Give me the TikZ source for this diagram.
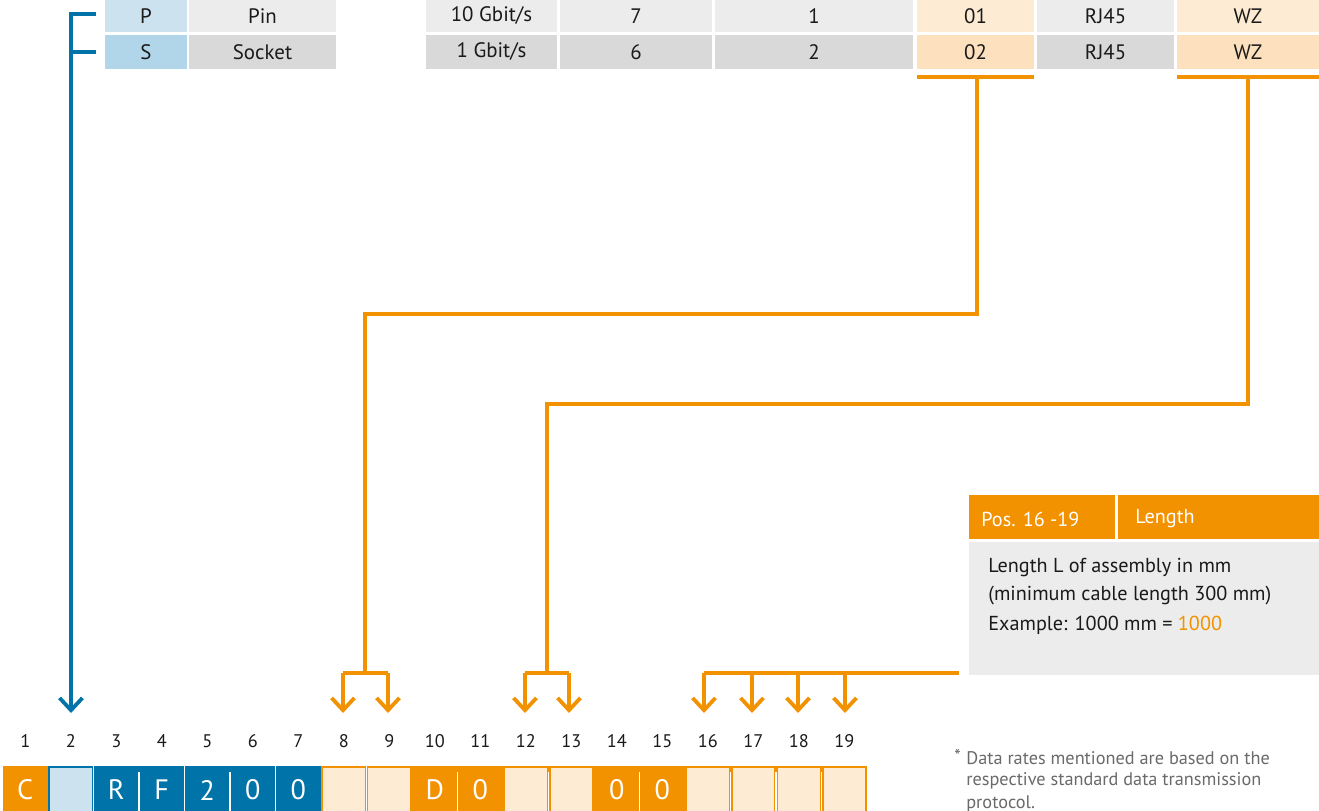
\documentclass[tikz,border=0pt]{standalone}
\usepackage{fontspec}
\setmainfont{PT Sans}
\usetikzlibrary{arrows.meta}
\definecolor{org}{HTML}{F39200}
\definecolor{lorg}{HTML}{FDEBD3}
\definecolor{lorgb}{HTML}{FDE0BE}
\definecolor{blu}{HTML}{0074A8}
\definecolor{lblu}{HTML}{CCE2EF}
\definecolor{lblub}{HTML}{B2D6E9}
\definecolor{gra}{HTML}{ECECEC}
\definecolor{grb}{HTML}{D9D9D9}
\definecolor{txt}{HTML}{1A1A1A}
\definecolor{foot}{HTML}{6A6A6A}
\newcommand\tcell[7]{%
  \path[fill=#6] (#2,#3) rectangle (#4,#5);
  \node[tabtext] (#1) at ({(#2+#4)/2},{(#3+#5)/2}) {#7};}
\newcommand\pcell[5]{% name, index, fill, border, text
  \path[draw=#4, fill=#3, line width=2*0.5669pt]
    ({2.5+45.5*(#2-1)+1},767) rectangle ({2.5+45.5*#2-1},830);
  \node[celltext] (#1) at ({2.5+45.5*(#2-0.5)},790) {#5};
  \node[numtext] (n#2) at ({2.5+45.5*(#2-0.5)},741) {#2};}
\newcommand\sep[1]{%
  \draw[white, line width=1.6*0.5669pt] ({2.5+45.5*#1},772) -- ({2.5+45.5*#1},830);}
\tikzset{
  tabtext/.style={inner sep=0pt, text=txt, font=\fontsize{11.9}{14}\selectfont},
  celltext/.style={inner sep=0pt, text=white, font=\fontsize{16}{18}\selectfont},
  numtext/.style={inner sep=0pt, text=txt, font=\fontsize{10.4}{12}\selectfont},
  oline/.style={draw=org, line width=3.8*0.5669pt},
  oarr/.style={oline, -{Straight Barb[length=7pt,width=13pt]}},
  bline/.style={draw=blu, line width=3.8*0.5669pt},
  barr/.style={bline, -{Straight Barb[length=7pt,width=13pt]}},
  boxtext/.style={inner sep=0pt, anchor=west, text=txt, font=\fontsize{11.5}{13}\selectfont},
  foottext/.style={inner sep=0pt, anchor=west, text=foot, font=\fontsize{10.4}{12}\selectfont},
}
\begin{document}
\begin{tikzpicture}[x=0.02cm, y=-0.02cm]
\clip (0,0) rectangle (1319,811);
\path[fill=white] (0,0) rectangle (1319,811);
% top-left table
\tcell{p}{105}{0}{187}{32}{lblu}{P}
\tcell{pin}{189}{0}{336}{32}{gra}{Pin}
\tcell{s}{105}{35}{187}{69}{lblub}{S}
\tcell{sock}{189}{35}{336}{69}{grb}{Socket}
% top-right table
\tcell{r1a}{426}{0}{557}{32}{gra}{10 Gbit/s}
\tcell{r1b}{560}{0}{712}{32}{gra}{7}
\tcell{r1c}{715}{0}{913}{32}{gra}{1}
\tcell{r1d}{917}{0}{1034}{32}{lorg}{01}
\tcell{r1e}{1037}{0}{1174}{32}{gra}{RJ45}
\tcell{r1f}{1177}{0}{1319}{32}{lorg}{WZ}
\tcell{r2a}{426}{35}{557}{69}{grb}{1 Gbit/s}
\tcell{r2b}{560}{35}{712}{69}{grb}{6}
\tcell{r2c}{715}{35}{913}{69}{grb}{2}
\tcell{r2d}{917}{35}{1034}{69}{lorgb}{02}
\tcell{r2e}{1037}{35}{1174}{69}{grb}{RJ45}
\tcell{r2f}{1177}{35}{1319}{69}{lorgb}{WZ}
% bottom code cells
\pcell{c1}{1}{org}{org}{C}
\pcell{c2}{2}{lblu}{blu}{}
\pcell{c3}{3}{blu}{blu}{R}
\pcell{c4}{4}{blu}{blu}{F}
\pcell{c5}{5}{blu}{blu}{2}
\pcell{c6}{6}{blu}{blu}{0}
\pcell{c7}{7}{blu}{blu}{0}
\pcell{c8}{8}{lorg}{org}{}
\pcell{c9}{9}{lorg}{org}{}
\pcell{c10}{10}{org}{org}{D}
\pcell{c11}{11}{org}{org}{0}
\pcell{c12}{12}{lorg}{org}{}
\pcell{c13}{13}{lorg}{org}{}
\pcell{c14}{14}{org}{org}{0}
\pcell{c15}{15}{org}{org}{0}
\pcell{c16}{16}{lorg}{org}{}
\pcell{c17}{17}{lorg}{org}{}
\pcell{c18}{18}{lorg}{org}{}
\pcell{c19}{19}{lorg}{org}{}
\foreach \b in {3,4,5,6,8,10,12,14,16,17,18} {\sep{\b}}
% blue connector
\coordinate (bt1) at (96,14);
\coordinate (bt2) at (96,52);
\coordinate (bc) at (71,14);
\coordinate (bs) at (71,52);
\coordinate (t2) at (71,713);
\draw[bline] (bs) -- (bt2);
\draw[barr] (bt1) -- (bc) -- (t2);
% orange connector from 01/02
\coordinate (bar1l) at (917,77);
\coordinate (bar1r) at (1034,77);
\coordinate (bar1) at (977,77);
\draw[oline] (bar1l) -- (bar1r);
\coordinate (k1) at (365,673);
\coordinate (a8) at (343,673);
\coordinate (a9) at (388,673);
\draw[oline] (bar1) |- (k1 |- 0,314) -- (k1);
\draw[oline] (a8) -- (a9);
\draw[oarr] (a8) -- (a8 |- 0,713);
\draw[oarr] (a9) -- (a9 |- 0,713);
% orange connector from WZ
\coordinate (bar2l) at (1177,77);
\coordinate (bar2r) at (1319,77);
\coordinate (bar2) at (1248,77);
\draw[oline] (bar2l) -- (bar2r);
\coordinate (k2) at (547,673);
\coordinate (a12) at (525,673);
\coordinate (a13) at (569,673);
\draw[oline] (bar2) |- (k2 |- 0,404) -- (k2);
\draw[oline] (a12) -- (a13);
\draw[oarr] (a12) -- (a12 |- 0,713);
\draw[oarr] (a13) -- (a13 |- 0,713);
% info box
\path[fill=org] (969,495) rectangle (1115,539);
\path[fill=org] (1118,495) rectangle (1319,539);
\path[fill=gra] (969,542) rectangle (1319,675);
\node[boxtext, text=white] (hpos) at (981,519) {Pos. 16 -19};
\node[boxtext, text=white] (hlen) at (1135,519) {Length};
\node[boxtext] (l1) at (988,567) {Length L of assembly in mm};
\node[boxtext] (l2) at (988,596) {(minimum cable length 300 mm)};
\node[boxtext] (l3) at (988,625) {Example: 1000 mm = \textcolor{org}{1000}};
% length connector
\coordinate (lend) at (959,673);
\coordinate (a16) at (704,673);
\coordinate (a17) at (752,673);
\coordinate (a18) at (798,673);
\coordinate (a19) at (845,673);
\draw[oline] (a16) -- (lend);
\foreach \k in {16,17,18,19} \draw[oarr] (a\k) -- (a\k |- 0,713);
% footnote
\node[foottext] (star) at (954,756) {*};
\node[foottext] (f1) at (966,758) {Data rates mentioned are based on the};
\node[foottext] (f2) at (966,781) {respective standard data transmission};
\node[foottext] (f3) at (966,804) {protocol.};
\end{tikzpicture}
\end{document}
